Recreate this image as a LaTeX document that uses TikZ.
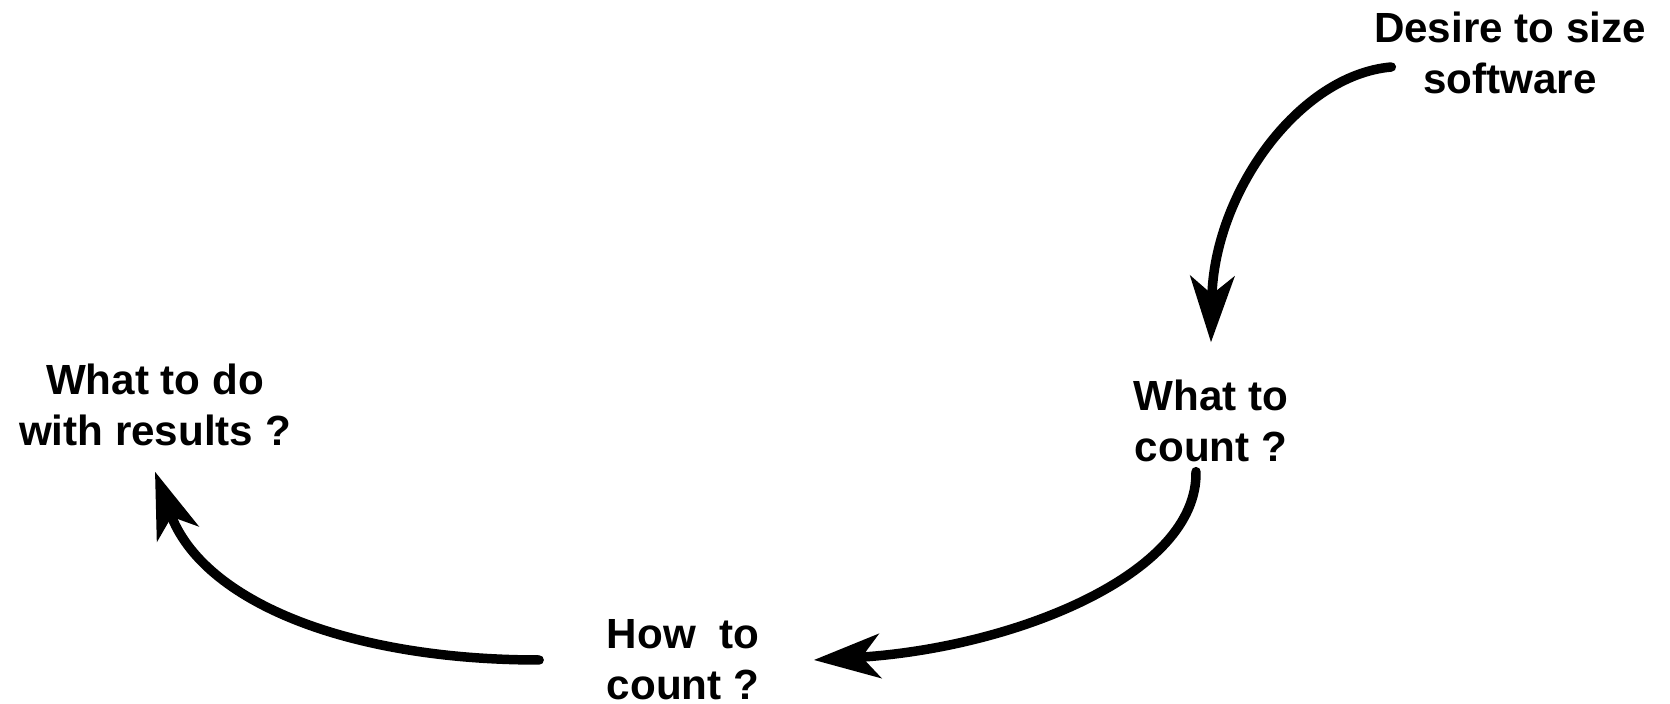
\documentclass[tikz,border=0pt]{standalone}
\usepackage{fontspec}
\setsansfont{Liberation Sans}
\usetikzlibrary{arrows.meta}
\tikzset{
  step label/.style={inner sep=0pt,align=center,font=\sffamily\bfseries\fontsize{12}{14.5}\selectfont,text=black},
  flow/.style={-{Stealth[length=6.6mm,width=4.4mm,inset=1.8mm]},draw=black,line width=2.7pt,line cap=round},
}
\begin{document}
\begin{tikzpicture}
  \useasboundingbox (0,0) rectangle (16.7,7.04);
  \node[step label] (desire) at (15.10,6.51) {Desire to size\\software};
  \node[step label] (count) at (12.11,2.83) {What to\\count ?};
  \node[step label] (how) at (6.83,0.44) {How\ \ to\\count ?};
  \node[step label] (results) at (1.55,2.99) {What to do\\with results ?};
  \draw[flow] ([xshift=1.8mm,yshift=-1.4mm]desire.west) .. controls +(-0.93,-0.08) and +(0.03,1.49) .. ([yshift=3.7mm]count.north);
  \draw[flow] ([xshift=-1.5mm,yshift=-0.9mm]count.south) .. controls +(0.02,-1.03) and +(1.99,0.12) .. ([xshift=5.4mm]how.east);
  \draw[flow] ([xshift=-6.7mm]how.west) .. controls +(-1.89,0) and +(0.48,-1.31) .. ([yshift=-2.5mm]results.south);
\end{tikzpicture}
\end{document}
